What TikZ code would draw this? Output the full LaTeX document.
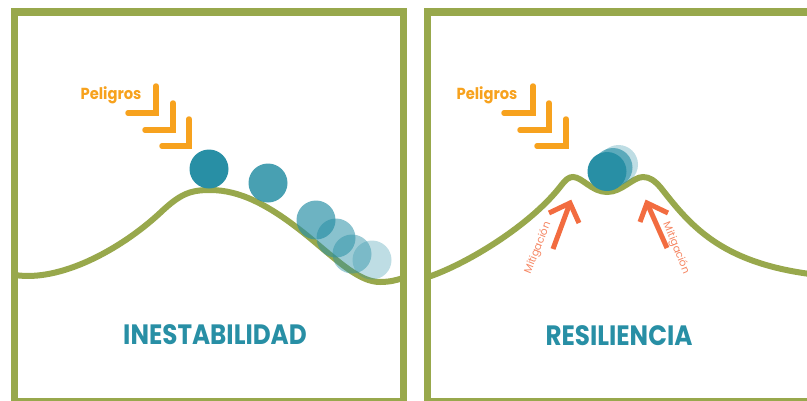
\documentclass[tikz,border=0pt]{standalone}
\usepackage{fontspec}
\setmainfont{Poppins}
\usepackage{graphicx}
\definecolor{olive}{RGB}{152,168,76}
\definecolor{tealb}{RGB}{40,143,165}
\definecolor{haz}{RGB}{247,162,30}
\definecolor{mitc}{RGB}{242,108,64}
\definecolor{mitt}{RGB}{245,135,100}
\tikzset{
  frame/.style={draw=olive, line width=7.5pt},
  ground/.style={draw=olive, line width=6pt, line cap=round},
  chev/.style={draw=haz, line width=5.5pt, line cap=round, line join=miter},
  ball/.style={circle, fill=tealb, draw=none, inner sep=0pt, minimum size=39pt},
  mitarrow/.style={draw=mitc, line width=5pt, line join=miter},
  hazlabel/.style={text=haz, font=\fontsize{16}{16}\selectfont\bfseries, inner sep=0pt},
  title/.style={text=tealb, font=\fontsize{28}{28}\selectfont\bfseries, inner sep=0pt},
  mitlabel/.style={text=mitt, font=\fontsize{10.5}{10.5}\selectfont, inner sep=0pt}
}
\begin{document}
\begin{tikzpicture}[x=1pt,y=-1pt]
\useasboundingbox (0,0) rectangle (807,400);
% frames
\draw[frame] (14.7,12) rectangle (403.3,402);
\draw[frame] (427.5,12) rectangle (815,402);
% ground curves
\draw[ground] (15,275) .. controls (60,282) and (120,250) .. (160,213)
  .. controls (180,194) and (190,190) .. (210,190)
  .. controls (240,190) and (270,205) .. (310,238)
  .. controls (340,263) and (360,282) .. (380,282)
  .. controls (390,282) and (397,280) .. (403,278);
\draw[ground] (431,276) .. controls (470,262) and (530,225) .. (560,187)
  .. controls (566,179) and (569,177) .. (573,177)
  .. controls (582,177) and (592,192) .. (607,192)
  .. controls (622,192) and (633,177) .. (643,177)
  .. controls (650,177) and (655,181) .. (661,188)
  .. controls (690,225) and (720,262) .. (810,274);
% left balls
\node[ball] (b1) at (209,169) {};
\node[ball, fill opacity=0.85] (b2) at (268,183) {};
\node[ball, fill opacity=0.68] (b3) at (316,220) {};
\node[ball, fill opacity=0.55] (b4) at (336,238) {};
\node[ball, fill opacity=0.45] (b5) at (352,254) {};
\node[ball, fill opacity=0.3] (b6) at (372,260) {};
% right balls
\node[ball, fill opacity=0.3] (r3) at (618.5,164.5) {};
\node[ball, fill opacity=0.65] (r2) at (613,167.5) {};
\node[ball] (r1) at (607,171.5) {};
% chevrons left
\coordinate (la1) at (128,113); \coordinate (lc1) at (156,113); \coordinate (lt1) at (156,86);
\coordinate (la2) at (145,130); \coordinate (lc2) at (173,130); \coordinate (lt2) at (173,103);
\coordinate (la3) at (162,146); \coordinate (lc3) at (189,146); \coordinate (lt3) at (189,119);
\draw[chev] (la1) -- (lc1) -- (lt1);
\draw[chev] (la2) -- (lc2) -- (lt2);
\draw[chev] (la3) -- (lc3) -- (lt3);
% chevrons right
\coordinate (ra1) at (504,113); \coordinate (rc1) at (533,113); \coordinate (rt1) at (533,86);
\coordinate (ra2) at (520,130); \coordinate (rc2) at (549,130); \coordinate (rt2) at (549,103);
\coordinate (ra3) at (537,146); \coordinate (rc3) at (566,146); \coordinate (rt3) at (566,119);
\draw[chev] (ra1) -- (rc1) -- (rt1);
\draw[chev] (ra2) -- (rc2) -- (rt2);
\draw[chev] (ra3) -- (rc3) -- (rt3);
% labels
\node[hazlabel] (p1) at (111,95) {\scalebox{0.92}[1]{Peligros}};
\node[hazlabel] (p2) at (487,95) {\scalebox{0.92}[1]{Peligros}};
\node[title] (t1) at (215,335) {\scalebox{0.88}[1]{INESTABILIDAD}};
\node[title] (t2) at (619,336) {\scalebox{0.88}[1]{RESILIENCIA}};
% mitigation arrows
\coordinate (mlt) at (553,249); \coordinate (mlh) at (570,203);
\coordinate (mla) at (549,213); \coordinate (mlb) at (579,223);
\draw[mitarrow] (mlt) -- (mlh);
\draw[mitarrow] (mla) -- (mlh) -- (mlb);
\coordinate (mrt) at (667,248); \coordinate (mrh) at (647,203);
\coordinate (mra) at (668,213); \coordinate (mrb) at (640,222);
\draw[mitarrow] (mrt) -- (mrh);
\draw[mitarrow] (mra) -- (mrh) -- (mrb);
\node[mitlabel, rotate=68] (m1) at (538,248) {Mitigación};
\node[mitlabel, rotate=-68] (m2) at (676,248) {Mitigación};
\end{tikzpicture}
\end{document}
